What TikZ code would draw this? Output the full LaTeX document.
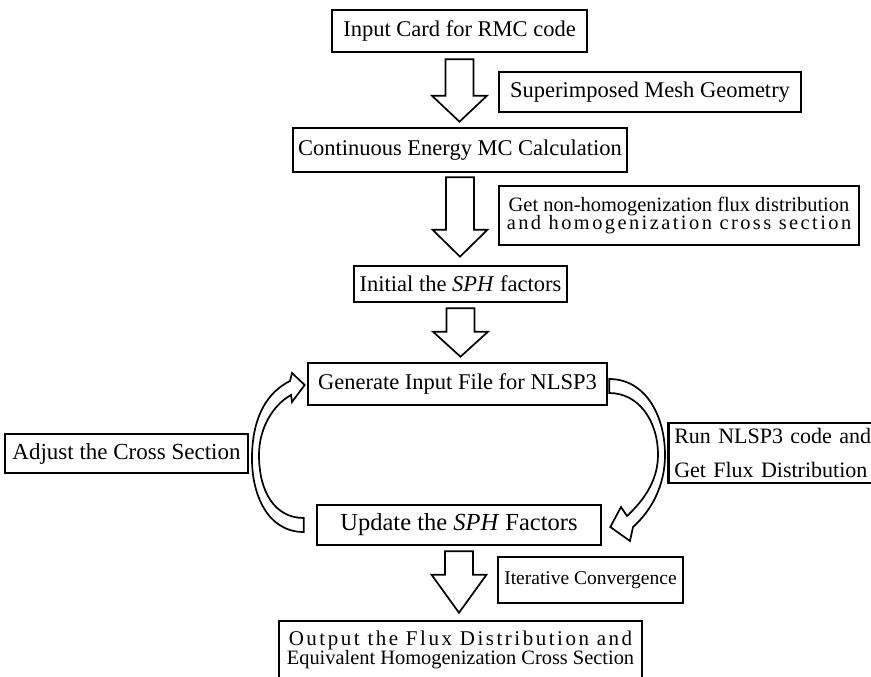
\documentclass[tikz,border=0pt]{standalone}
\usepackage{fontspec}
\setmainfont{Liberation Serif}
\usetikzlibrary{calc}
\tikzset{
  box/.style={draw, line width=2.6pt, inner sep=0pt, align=center},
  hollow/.style={draw, line width=1.7pt, fill=white, line join=miter},
}
\newcommand\fs[1]{\fontsize{#1}{#1}\selectfont}
\newcommand\hollowdown[5]{%
  \draw[hollow] let \p1=(#1.south), \p2=(#2.north) in
    (\x1-14pt,\y1-#3pt) -- (\x1+14pt,\y1-#3pt) -- (\x1+14pt,\y2+#4pt+#5pt)
    -- (\x1+27.5pt,\y2+#4pt+#5pt) -- (\x1,\y2+#4pt) -- (\x1-27.5pt,\y2+#4pt+#5pt)
    -- (\x1-14pt,\y2+#4pt+#5pt) -- cycle;}
\begin{document}
\begin{tikzpicture}[x=1pt,y=-1pt]
\useasboundingbox (0,0) rectangle (871,677);
\fill[white] (0,0) rectangle (871,677);
\clip (0,0) rectangle (871,677);

\node[box, minimum width=255pt, minimum height=42pt, font=\fs{22.5}] (inp) at (459.5,31) {Input Card for RMC code};
\node[box, minimum width=302pt, minimum height=40pt, font=\fs{22.5}] (mesh) at (650,92) {Superimposed Mesh Geometry};
\node[box, minimum width=334pt, minimum height=44pt, font=\fs{22.5}] (cont) at (460,150) {Continuous Energy MC Calculation};
\node[box, minimum width=360pt, minimum height=59pt] (flux) at (679,215.5)
  {{\fontsize{20.4}{21}\selectfont Get non-homogenization flux distribution}\\[-1pt]
   {\fontsize{20.4}{21}\selectfont\addfontfeature{LetterSpace=12}and homogenization cross section}};
\node[box, minimum width=213pt, minimum height=36pt, font=\fs{22.5}] (init) at (460.5,284) {Initial the \textit{SPH} factors};
\node[box, minimum width=299pt, minimum height=42pt, font=\fs{22.5}] (gen) at (457.5,384) {Generate Input File for NLSP3};
\node[box, minimum width=243pt, minimum height=39pt, font=\fs{23}] (adj) at (126.5,453.5) {Adjust the Cross Section};
\node[box, anchor=west, text width=228pt, inner xsep=6pt, minimum height=60pt, align=left, font=\fontsize{22}{34}\selectfont] (run) at (667,453) {Run NLSP3 code and\\Get Flux Distribution};
\node[box, minimum width=284pt, minimum height=40pt, font=\fs{24.5}] (upd) at (459,525) {Update the \textit{SPH} Factors};
\node[box, minimum width=185pt, minimum height=46pt, font=\fs{19.5}] (conv) at (590.5,580) {Iterative Convergence};
\node[box, minimum width=363pt, minimum height=58pt] (out) at (460.5,650)
  {{\fontsize{21}{21}\selectfont\addfontfeature{LetterSpace=12}Output the Flux Distribution and}\\[-1pt]
   {\fontsize{20.4}{21}\selectfont Equivalent Homogenization Cross Section}};

\hollowdown{inp}{cont}{6}{5}{26}
\hollowdown{cont}{init}{4}{8}{27}
\hollowdown{init}{gen}{5}{5}{25}
\hollowdown{upd}{out}{5}{7}{38}

\draw[hollow] ($(upd.west)+(-12,7)$) .. controls (268,532) and (251,495) .. (252,455)
  .. controls (253,415) and (268,392) .. (290,381) -- (292,373) -- ($(gen.west)+(-2,1)$)
  -- (292,402) -- (291,395) .. controls (273,405) and (259,428) .. (259,455)
  .. controls (259,492) and (275,518) .. ($(upd.west)+(-12,-7)$) -- cycle;

\draw[hollow] ($(gen.east)+(1,-5)$) .. controls (645,379) and (665,415) .. (665,455)
  .. controls (665,485) and (652,510) .. (633,527) -- (630,541) -- ($(upd.east)+(8,2)$)
  -- (621,507) -- (627,516) .. controls (642,502) and (658,482) .. (658,455)
  .. controls (658,420) and (638,393) .. ($(gen.east)+(1,9)$) -- cycle;
\end{tikzpicture}
\end{document}
